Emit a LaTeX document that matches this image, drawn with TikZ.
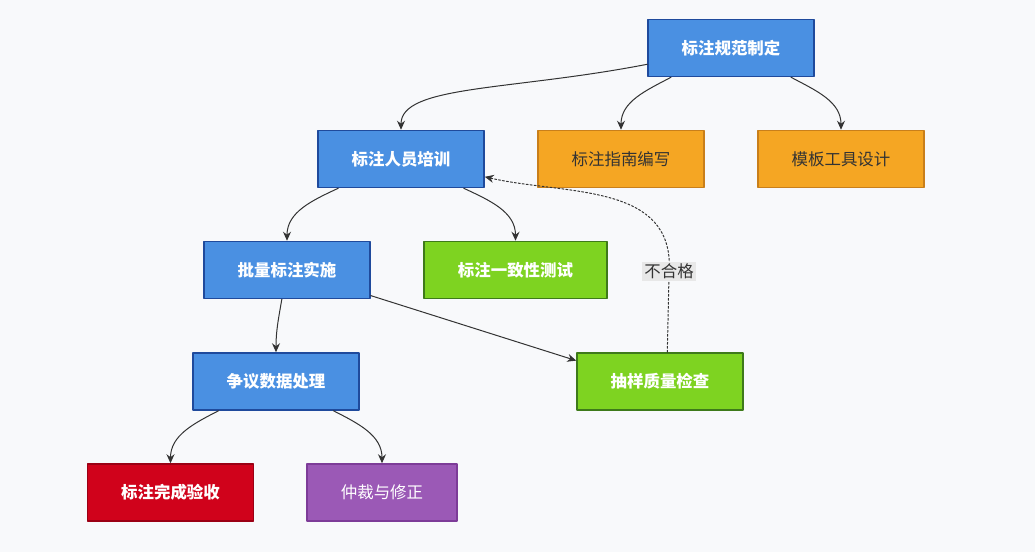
\documentclass[tikz,border=0pt]{standalone}
\usepackage{fontspec}
\usetikzlibrary{arrows.meta}
\newfontfamily\cjk{Noto Sans CJK SC}
\definecolor{bgc}{HTML}{F8F9FB}
\definecolor{linec}{HTML}{333333}
\definecolor{bluef}{HTML}{4A90E2}\definecolor{blued}{HTML}{1F4A9C}
\definecolor{orangef}{HTML}{F5A623}\definecolor{oranged}{HTML}{C97F1A}
\definecolor{greenf}{HTML}{7ED321}\definecolor{greend}{HTML}{3E7A1A}
\definecolor{redf}{HTML}{D0021B}\definecolor{redd}{HTML}{9B0014}
\definecolor{purplef}{HTML}{9B59B6}\definecolor{purpled}{HTML}{7D3C98}
\begin{document}
\begin{tikzpicture}[x=1bp,y=-1bp,font=\cjk\fontsize{16.5}{19}\selectfont,line join=round,line cap=round,>={Stealth[length=9bp,width=8bp]},
	box/.style={line width=1.5bp,minimum width=166bp,minimum height=57bp,inner sep=0pt},
	bluebox/.style={box,fill=bluef,draw=blued,text=white,font=\cjk\fontsize{16.5}{19}\selectfont\bfseries},
	orangebox/.style={box,fill=orangef,draw=oranged,text=linec},
	greenbox/.style={box,fill=greenf,draw=greend,text=white,font=\cjk\fontsize{16.5}{19}\selectfont\bfseries},
	redbox/.style={box,fill=redf,draw=redd,text=white,font=\cjk\fontsize{16.5}{19}\selectfont\bfseries},
	purplebox/.style={box,fill=purplef,draw=purpled,text=white},
	link/.style={draw=linec,line width=1bp,->}]
	\fill[bgc] (0,0) rectangle (1035,552);
	\useasboundingbox (0,0) rectangle (1035,552);
	% nodes
	\node[bluebox] (spec) at (731,48) {标注规范制定};
	\node[bluebox] (train) at (401,159) {标注人员培训};
	\node[orangebox] (guide) at (621,159) {标注指南编写};
	\node[orangebox] (tool) at (841,159) {模板工具设计};
	\node[bluebox] (batch) at (287,270) {批量标注实施};
	\node[greenbox,minimum width=183bp] (consist) at (515.5,270) {标注一致性测试};
	\node[bluebox] (dispute) at (276,381.5) {争议数据处理};
	\node[greenbox] (sample) at (660,381.5) {抽样质量检查};
	\node[redbox] (accept) at (170.5,492.5) {标注完成验收};
	\node[purplebox,minimum width=150bp] (arbit) at (382,492.5) {仲裁与修正};
	% connectors
	\draw[link] (spec.191) to[out=191,in=90,out looseness=1.4,in looseness=0.45] (train.north);
	\draw[link] (spec.206) to[out=208,in=90] (guide.north);
	\draw[link] (spec.-26) to[out=-28,in=90] (tool.north);
	\draw[link] (train.205) to[out=205,in=90] (batch.north);
	\draw[link] (train.-25) to[out=-25,in=90] (consist.north);
	\draw[link] (batch.260) to[out=260,in=90] (dispute.north);
	\draw[link] (batch.-17) -- (sample.166);
	\draw[link] (dispute.207) to[out=207,in=90] (accept.north);
	\draw[link] (dispute.-27) to[out=-27,in=90] (arbit.north);
	\draw[link,dash pattern=on 2bp off 2bp] (sample.76) -- node[pos=0.9,fill=black!9,text=linec,inner sep=2bp,solid]{不合格} ++(2,-90) to[out=92,in=-13] (train.-12);
\end{tikzpicture}
\end{document}
